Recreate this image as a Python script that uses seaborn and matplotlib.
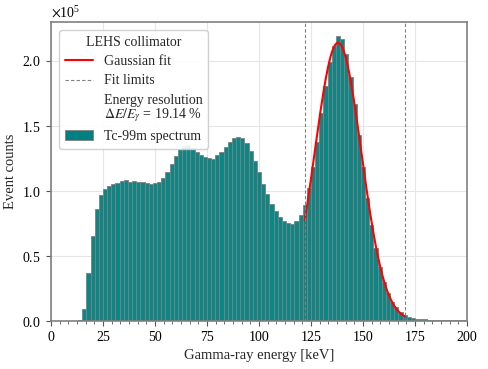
import numpy as np
import pandas as pd
import matplotlib
matplotlib.use("Agg")
import matplotlib.pyplot as plt
from matplotlib.lines import Line2D
from matplotlib.patches import Patch
from matplotlib.ticker import AutoMinorLocator, MultipleLocator
import seaborn as sns

# ---------------- data ----------------
energy_keV = list(range(0, 202, 2))  # bin centres, 2 keV wide bins
counts = [
    0, 0, 0, 0, 0, 0, 200, 500,                     # 0-14
    9600, 37300, 65400, 86200, 96800, 101800, 103800, 105200,   # 16-30
    106500, 107700, 108400, 107100, 107600, 107200, 106700, 105800,  # 32-46
    105500, 106200, 106800, 110300, 114900, 121000, 127200, 132100,  # 48-62
    134500, 135400, 132800, 130000, 128000, 125900, 125100, 124900,  # 64-78
    127600, 130100, 133500, 137600, 141000, 141200, 140900, 136700,  # 80-94
    130600, 123200, 114400, 105300, 97600, 90300, 84900, 80200,      # 96-110
    76700, 75100, 74900, 76900, 81500, 89500, 102100, 118700,        # 112-126
    137900, 159700, 180800, 199500, 211500, 219200, 216700, 205400,  # 128-142
    187900, 166900, 143100, 118700, 95000, 73800, 55900, 41300,      # 144-158
    30200, 21300, 14900, 10500, 6900, 4900, 3300, 2600,              # 160-174
    1800, 1500, 1300, 1100, 1000, 900, 800, 700,                     # 176-190
    600, 600, 500, 500, 400,                                         # 192-200
]

fit_low_keV, fit_high_keV = 122.0, 170.0
fit_amplitude = 214000.0
fit_mean_keV = 138.0
energy_resolution_pct = 19.14
fit_sigma_keV = energy_resolution_pct / 100 * fit_mean_keV / 2.3548

df = pd.DataFrame({"energy": energy_keV, "counts": counts})
bin_edges = [float(e) for e in np.arange(-1, 203, 2)]

# ---------------- style ----------------
sns.set_style("whitegrid")
plt.rcParams.update({
    "font.family": ["Liberation Serif", "DejaVu Serif"],
    "mathtext.fontset": "stix",
    "font.size": 10,
    "axes.edgecolor": "#808080",
    "axes.linewidth": 1.2,
    "grid.color": "#e6e6e6",
    "grid.linewidth": 0.8,
    "xtick.bottom": True,
    "ytick.left": True,
    "xtick.direction": "out",
    "ytick.direction": "out",
    "xtick.color": "#555555",
    "ytick.color": "#555555",
    "xtick.labelcolor": "black",
    "ytick.labelcolor": "black",
    "xtick.major.size": 3.5,
    "ytick.major.size": 3.5,
    "xtick.minor.size": 2.0,
    "xtick.major.width": 0.8,
    "ytick.major.width": 0.8,
    "xtick.minor.width": 0.6,
})

fig = plt.figure(figsize=(4.89, 3.69), dpi=100)
ax = fig.add_axes([0.1043, 0.130, 0.8507, 0.8104])

sns.histplot(data=df, x="energy", weights="counts", bins=bin_edges,
             color="teal", edgecolor="gray", linewidth=0.6, alpha=0.95,
             ax=ax)

xf = np.linspace(fit_low_keV, fit_high_keV, 300)
yf = fit_amplitude * np.exp(-0.5 * ((xf - fit_mean_keV) / fit_sigma_keV) ** 2)
sns.lineplot(x=xf, y=yf, color="red", linewidth=1.5, ax=ax)

for xl in (fit_low_keV, fit_high_keV):
    ax.axvline(xl, color="gray", linestyle="--", linewidth=0.8, dashes=(3, 2))

ax.set_xlim(0, 200)
ax.set_ylim(0, 230000)
ax.xaxis.set_major_locator(MultipleLocator(25))
ax.xaxis.set_minor_locator(AutoMinorLocator(6))
ax.yaxis.set_major_locator(MultipleLocator(50000))
ax.ticklabel_format(style="sci", axis="y", scilimits=(0, 0), useMathText=True)
ax.grid(True, which="major")
ax.set_axisbelow(True)

ax.set_xlabel("Gamma-ray energy [keV]", fontsize=10.5)
ax.set_ylabel("Event counts", fontsize=10.5)

handles = [
    Line2D([], [], color="red", linewidth=1.5),
    Line2D([], [], color="gray", linestyle="--", linewidth=0.8, dashes=(3, 2)),
    Line2D([], [], color="none"),
    Patch(facecolor="teal", edgecolor="gray", linewidth=0.6),
]
labels = [
    "Gaussian fit",
    "Fit limits",
    "Energy resolution\n$\\Delta E/E_{\\gamma}$ = %.2f %%" % energy_resolution_pct,
    "Tc-99m spectrum",
]
leg = ax.legend(handles, labels, title="LEHS collimator", loc="upper left",
                fontsize=10, title_fontsize=10, frameon=True, framealpha=0.9,
                edgecolor="#cccccc", labelspacing=0.45, borderaxespad=0.6)
leg.get_texts()[2].set_linespacing(0.95)

fig.savefig("out.png", dpi=100)
